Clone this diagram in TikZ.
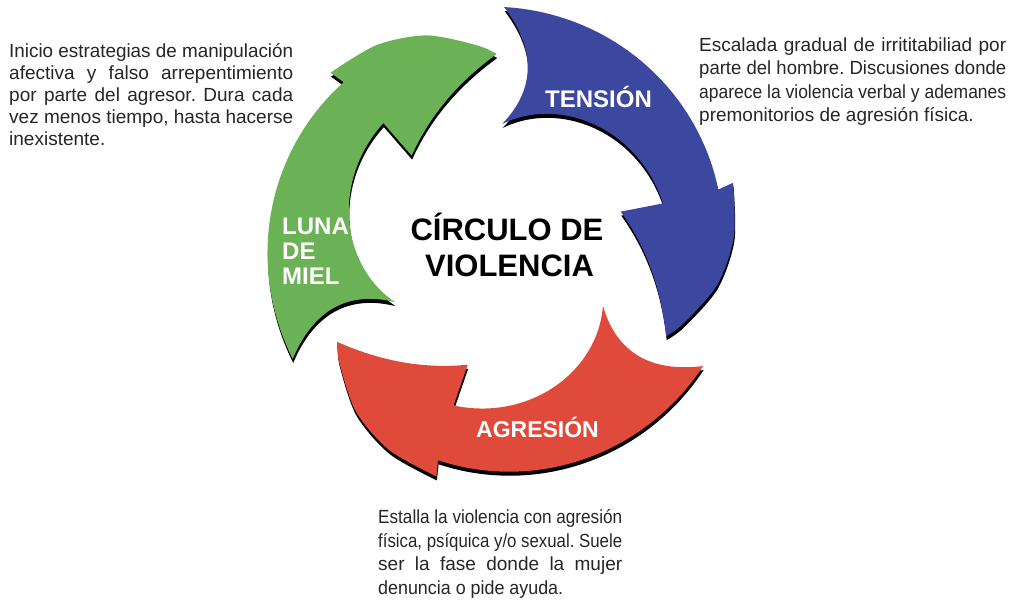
\documentclass[tikz,border=0pt]{standalone}
\usepackage{fontspec}
\setmainfont{Liberation Sans}
\usepackage{graphicx}
\frenchspacing
\definecolor{arrgreen}{HTML}{6BB156}
\definecolor{arrblue}{HTML}{3C47A0}
\definecolor{arrred}{HTML}{E04A3A}
\definecolor{txtgray}{HTML}{262626}
\newlength\natw
\newcommand\jline[2]{\settowidth\natw{#2}\ifdim\natw>#1\relax\resizebox{#1}{\height}{#2}\else\makebox[#1][s]{#2}\fi}
\newcommand\cyclearrow[1]{%
 (#1:237)
 -- plot[domain=0:1,samples=40,variable=\pp] ({#1-75*\pp}:{237-12*\pp})
 -- ({#1-74.3}:241)
 -- plot[smooth] coordinates {({#1-74.3}:241) ({#1-87.3}:234) ({#1-99.7}:221) ({#1-112.4}:200) ({#1-118}:190)}
 .. controls ({#1-105.2}:168) and ({#1-91.2}:148) .. ({#1-74}:125)
 -- ({#1-75}:167)
 -- plot[domain=0:1,samples=40,variable=\pp] ({#1-75*(1-\pp)}:{120+48*(1.7*(1-\pp)-0.7*(1-\pp)*(1-\pp))})
 .. controls ({#1-12}:159) and ({#1-9.5}:198) .. (#1:237) -- cycle}
\tikzset{
  shadowfill/.style={fill=black, shift={(0.5,-4)}},
  label/.style={font=\bfseries\fontsize{24}{26}\selectfont, text=white, inner sep=0},
  titletext/.style={font=\bfseries\fontsize{31}{36}\selectfont, text=black, inner sep=0, anchor=base},
  body/.style={anchor=base west, inner sep=0, font=\fontsize{19}{22}\selectfont, text=txtgray}
}
\begin{document}
\begin{tikzpicture}[x=1pt,y=1pt]
\useasboundingbox (0,0) rectangle (1024,609);
\fill[white] (0,0) rectangle (1024,609);
\begin{scope}[shift={(500,365)}]
  % green: luna de miel
  \path[shadowfill] \cyclearrow{209};
  \fill[arrgreen] \cyclearrow{209};
  % blue: tension
  \path[shadowfill] \cyclearrow{89};
  \fill[arrblue] \cyclearrow{89};
  % red: agresion
  \path[shadowfill] \cyclearrow{329};
  \fill[arrred] \cyclearrow{329};
\end{scope}
% title
\node[titletext] (t1) at (507,368) {CÍRCULO DE};
\node[titletext] (t2) at (509.5,332) {VIOLENCIA};
% labels
\node[label, anchor=base] (ten) at (598.5,501) {TENSIÓN};
\node[label, anchor=base west] (luna1) at (282,374.7) {LUNA};
\node[label, anchor=base west] (luna2) at (282,349) {DE};
\node[label, anchor=base west] (luna3) at (282,324) {MIEL};
\node[label, anchor=base, font=\bfseries\fontsize{23}{26}\selectfont] (agr) at (537.5,171) {AGRESIÓN};
% left text
\node[body] (l1) at (9,551) {\jline{284pt}{Inicio estrategias de manipulación}};
\node[body] (l2) at (9,529) {\jline{284pt}{afectiva y falso arrepentimiento}};
\node[body] (l3) at (9,507) {\jline{284pt}{por parte del agresor. Dura cada}};
\node[body] (l4) at (9,485) {\jline{284pt}{vez menos tiempo, hasta hacerse}};
\node[body] (l5) at (9,463) {inexistente.};
% right text
\node[body] (r1) at (699,557.5) {\jline{307pt}{Escalada gradual de irrititabiliad por}};
\node[body] (r2) at (699,534) {\jline{307pt}{parte del hombre. Discusiones donde}};
\node[body] (r3) at (699,510.5) {\jline{307pt}{aparece la violencia verbal y ademanes}};
\node[body] (r4) at (699,487) {premonitorios de agresión física.};
% bottom text
\node[body] (b1) at (378,85) {\jline{244pt}{Estalla la violencia con agresión}};
\node[body] (b2) at (378,61.5) {\jline{244pt}{física, psíquica y/o sexual. Suele}};
\node[body] (b3) at (378,38) {\jline{244pt}{ser la fase donde la mujer}};
\node[body] (b4) at (378,14.5) {\resizebox{185pt}{\height}{denuncia o pide ayuda.}};
\end{tikzpicture}
\end{document}
